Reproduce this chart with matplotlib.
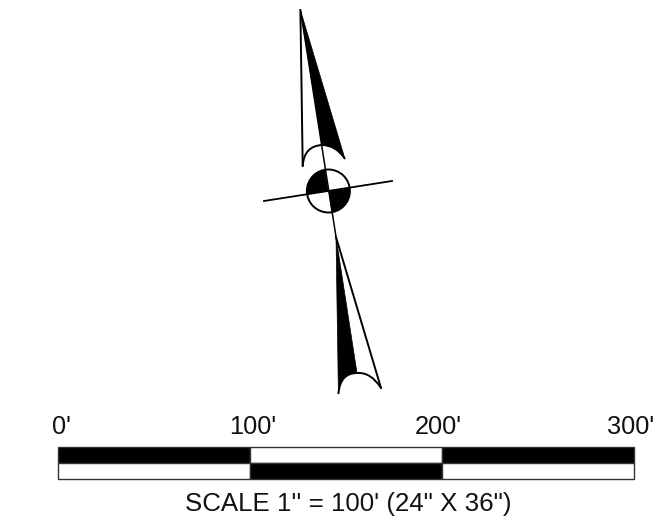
import matplotlib
matplotlib.use('Agg')
import matplotlib.pyplot as plt
from matplotlib.patches import Circle, PathPatch, Wedge
from matplotlib.path import Path

# scale bar segments, in feet
seg_starts = [0, 100, 200]
seg_width = 100
top_colors = ['black', 'white', 'black']
bottom_colors = ['white', 'black', 'white']
tick_labels = ["0'", "100'", "200'", "300'"]
scale_text = "SCALE 1'' = 100' (24\" X 36\")"

# north arrow, in image pixels
center = (328.4, 191)
radius = 21.5
tilt = 9
upper_tip = (300.4, 10)
upper_left = (302.7, 166)
upper_arc = [(304, 146), (322, 145), (336, 145), (345, 159)]
lower_tip = (336, 237)
lower_left = (338.4, 394)
lower_arc = [(340, 373), (357, 373), (371, 372), (381, 388)]
axis_line = [(300.8, 12), (336.5, 240)]
cross_line = [(264, 201), (392, 181)]

plt.rcParams['font.family'] = ['Liberation Sans', 'DejaVu Sans']

fig = plt.figure(figsize=(6.58, 5.31), dpi=100)
ax = fig.add_axes([0, 0, 1, 1])
ax.set_xlim(0, 658)
ax.set_ylim(531, 0)
ax.axis('off')

codes = [Path.MOVETO, Path.CURVE3, Path.CURVE3, Path.CURVE3, Path.CURVE3]

# upper needle: black half bounded by the arc, then the open half
ax.add_patch(PathPatch(Path([upper_tip, upper_arc[1], upper_arc[2], upper_arc[3], upper_tip],
                            [Path.MOVETO, Path.LINETO, Path.CURVE3, Path.CURVE3, Path.CLOSEPOLY]),
                       fc='black', ec='black', lw=0.5))
ax.plot([upper_tip[0], upper_left[0]], [upper_tip[1], upper_left[1]], color='black', lw=1.4)
ax.add_patch(PathPatch(Path([upper_left] + upper_arc, codes), fc='none', ec='black', lw=1.4, zorder=3))

# lower needle
ax.add_patch(PathPatch(Path([lower_tip, lower_left, lower_arc[0], lower_arc[1], lower_tip],
                            [Path.MOVETO, Path.LINETO, Path.CURVE3, Path.CURVE3, Path.CLOSEPOLY]),
                       fc='black', ec='black', lw=0.5))
ax.plot([lower_tip[0], lower_arc[3][0]], [lower_tip[1], lower_arc[3][1]], color='black', lw=1.4)
ax.add_patch(PathPatch(Path([lower_left] + lower_arc, codes), fc='none', ec='black', lw=1.4, zorder=3))

# centre target, y axis is flipped so angles run clockwise on screen
ax.add_patch(Circle(center, radius, fc='white', ec='black', lw=1.4, zorder=4))
ax.add_patch(Wedge(center, radius, 180 - tilt, 270 - tilt, fc='black', ec='none', zorder=4))
ax.add_patch(Wedge(center, radius, -tilt, 90 - tilt, fc='black', ec='none', zorder=4))
ax.plot(*zip(*cross_line), color='black', lw=1.3, zorder=5)
ax.plot(*zip(*axis_line), color='black', lw=1.1, zorder=5)

# scale bar on its own axes, running 0 to 300 feet
bar_ax = fig.add_axes([57.5 / 658, 1 - 478.5 / 531, 576.5 / 658, 31.5 / 531])
bar_ax.set_xlim(0, 300)
bar_ax.set_ylim(0, 2)
bar_ax.axis('off')
bar_ax.bar(seg_starts, [1] * 3, seg_width, bottom=1, align='edge', color=top_colors,
           edgecolor='#333333', lw=1.0, clip_on=False)
bar_ax.bar(seg_starts, [1] * 3, seg_width, bottom=0, align='edge', color=bottom_colors,
           edgecolor='#333333', lw=1.0, clip_on=False)

label_centers = [61, 252.5, 438, 630.5]
for label, x in zip(tick_labels, label_centers):
    ax.text(x, 434.5, label, ha='center', va='baseline', fontsize=18.3, color='#111111')
ax.text(348, 510.5, scale_text, ha='center', va='baseline', fontsize=18.6, color='#111111')

fig.savefig('out.png', dpi=100)
